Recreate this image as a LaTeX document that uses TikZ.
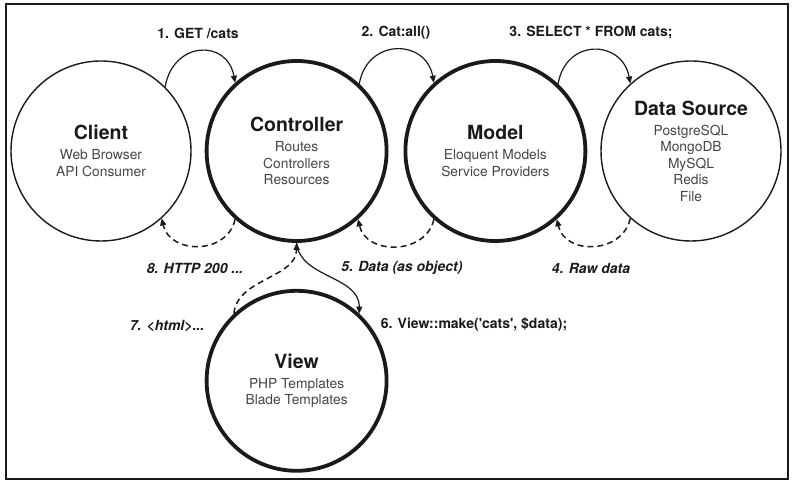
\documentclass[tikz,border=0pt]{standalone}
\usepackage{fontspec}
\setmainfont{TeX Gyre Heros}
\usepackage{tikz}
\usetikzlibrary{positioning,arrows.meta}

\definecolor{inkblack}{HTML}{1A1A1A}
\definecolor{subgray}{HTML}{454545}
\newcommand{\layertitle}[1]{{\color{inkblack}\bfseries\fontsize{19.5}{22}\selectfont #1}}
\tikzset{
  layer/.style={circle, draw=inkblack, minimum size=180pt, inner sep=0pt,
    align=center, text=subgray, font=\fontsize{13.8}{16.5}\selectfont},
  thin layer/.style={layer, line width=1.4pt},
  thick layer/.style={layer, line width=3.8pt},
  call/.style={draw=inkblack, line width=1.2pt, -{Triangle[length=7pt,width=6pt]}},
  reply/.style={call, line width=1.5pt, dash pattern=on 6pt off 4pt},
  steplbl/.style={text=inkblack, font=\bfseries\fontsize{14}{16}\selectfont},
  replylbl/.style={text=inkblack, font=\bfseries\itshape\fontsize{14}{16}\selectfont}
}

\begin{document}
\begin{tikzpicture}[x=1pt,y=1pt]
\useasboundingbox (0,0) rectangle (795,492);
\draw[line width=1.2pt, inkblack] (6,13) rectangle (788,488);
%----------------------------------
\node[thin layer] (client) at (101,341) {\layertitle{Client}\\[3.5pt] Web Browser\\ API Consumer};
\node[thick layer, right=13pt of client] (controller) {\layertitle{Controller}\\[3.5pt] Routes\\ Controllers\\ Resources};
\node[thick layer, right=15pt of controller] (model) {\layertitle{Model}\\[3.5pt] Eloquent Models\\ Service Providers};
\node[thin layer, right=13pt of model] (source) {\layertitle{Data Source}\\[3.5pt] PostgreSQL\\ MongoDB\\ MySQL\\ Redis\\ File};
\node[thick layer, below=46pt of controller] (view) {\layertitle{View}\\[3.5pt] PHP Templates\\ Blade Templates};
%----------------------------------
\draw[call] (client.45) .. controls +(8,46) and +(-8,44) .. (controller.132);
\draw[call] (controller.47) .. controls +(8,46) and +(-8,44) .. (model.132);
\draw[call] (model.47) .. controls +(8,46) and +(-8,44) .. (source.132);
%----------------------------------
\draw[reply] (source.228) .. controls +(-8,-36) and +(8,-36) .. (model.312);
\draw[reply] (model.228) .. controls +(-8,-36) and +(8,-36) .. (controller.312);
\draw[reply] (controller.228) .. controls +(-8,-36) and +(8,-36) .. (client.312);
%----------------------------------
\draw[call] (controller.270) .. controls +(3,-35) and +(0,38) .. (view.47);
\draw[reply] (view.133) .. controls +(3,35) and +(0,-35) .. (controller.270);
%----------------------------------
\node[steplbl] (get) at (198,459) {1. GET /cats};
\node[steplbl] (all) at (396,459) {2. Cat:all()};
\node[steplbl] (select) at (591,459) {3. SELECT * FROM cats;};
\node[replylbl] (raw) at (591,224) {4. Raw data};
\node[replylbl] (object) at (402,224) {5. Data (as object)};
\node[steplbl] (make) at (474,167) {6. View::make(\textquotesingle cats\textquotesingle, \$data);};
\node[replylbl] (html) at (167,166) {7. <html>...};
\node[replylbl] (ok) at (195,224) {8. HTTP 200 ...};
\end{tikzpicture}
\end{document}
